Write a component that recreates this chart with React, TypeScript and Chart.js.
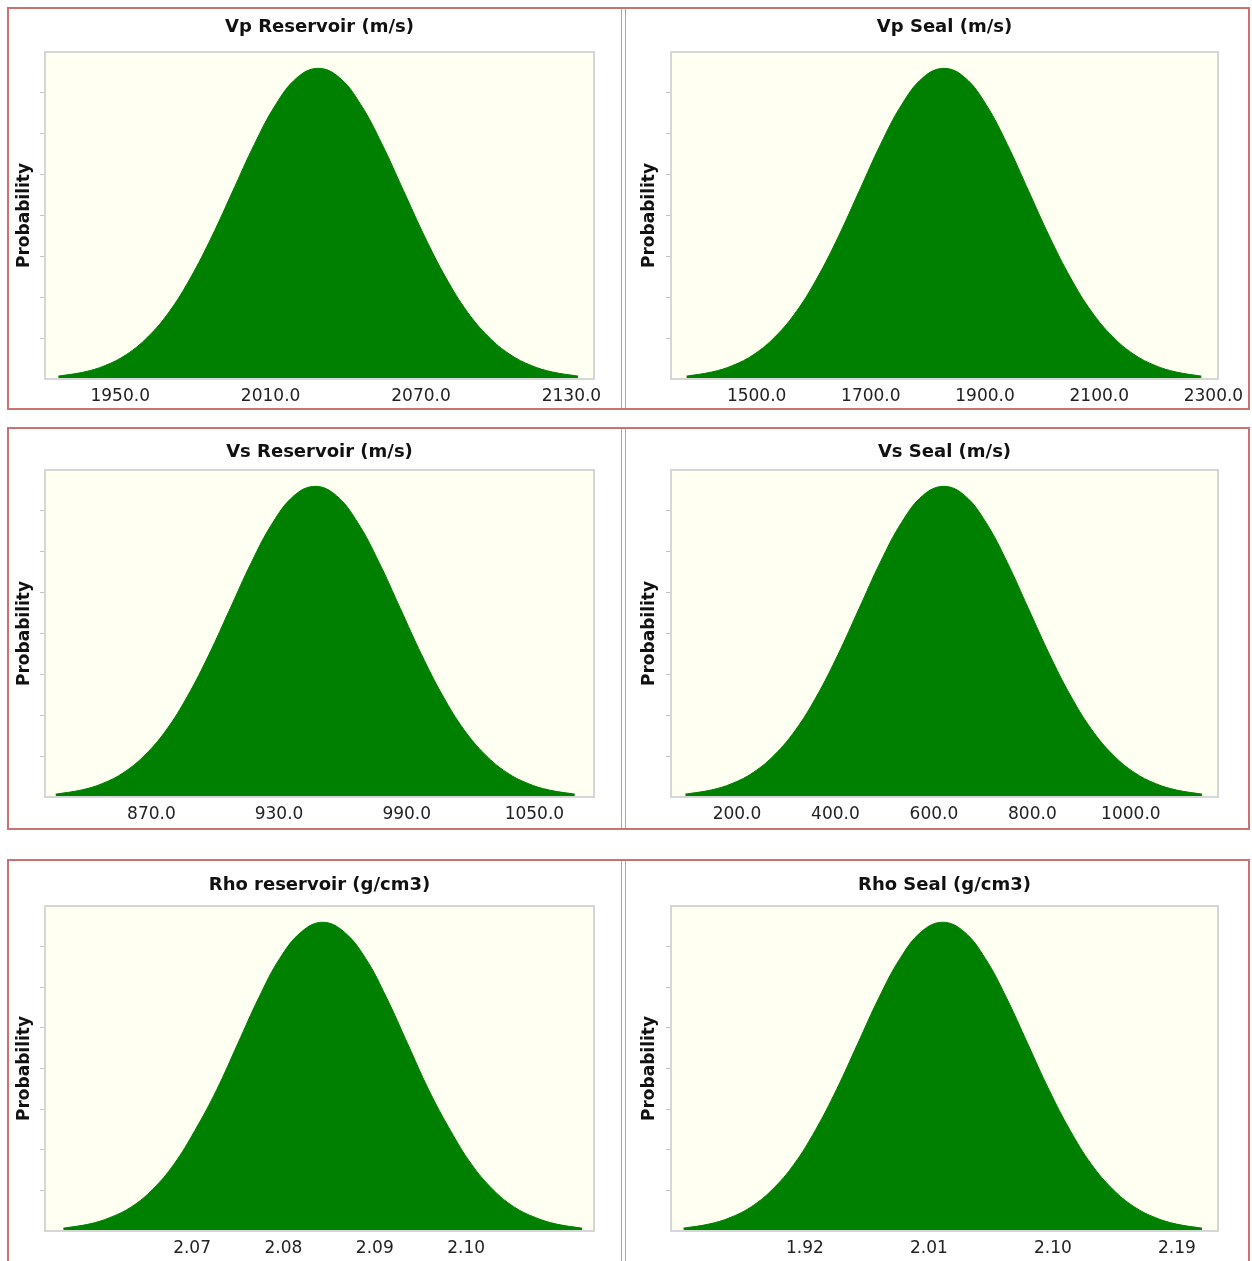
import React, { useEffect, useRef } from 'react';
import { Chart, registerables } from 'chart.js';

Chart.register(...registerables);

// ---------- data ----------
const TITLE_VP_RES = 'Vp Reservoir (m/s)';
const TITLE_VP_SEAL = 'Vp Seal (m/s)';
const TITLE_VS_RES = 'Vs Reservoir (m/s)';
const TITLE_VS_SEAL = 'Vs Seal (m/s)';
const TITLE_RHO_RES = 'Rho reservoir (g/cm3)';
const TITLE_RHO_SEAL = 'Rho Seal (g/cm3)';
const Y_LABEL = 'Probability';

const VP_RES_X = [1925.3, 1935.5, 1944, 1952.5, 1961, 1969.5, 1978, 1986.5, 1995, 2003.5, 2012, 2020.5, 2029, 2037.5, 2046, 2054.5, 2063, 2071.5, 2080, 2088.5, 2097, 2105.5, 2114, 2122.5, 2132.7];
const VP_RES_Y = [0.07, 0.17, 0.33, 0.6, 1.03, 1.64, 2.47, 3.48, 4.61, 5.74, 6.71, 7.37, 7.6, 7.37, 6.71, 5.74, 4.61, 3.48, 2.47, 1.64, 1.03, 0.6, 0.33, 0.17, 0.07];
const VP_RES_TICKS = [1950, 2010, 2070, 2130];
const VP_RES_RANGE = [1920, 2139];

const VP_SEAL_X = [1377, 1421, 1458, 1495, 1532, 1569, 1606, 1643, 1680, 1717, 1754, 1791, 1828, 1865, 1902, 1939, 1976, 2013, 2050, 2087, 2124, 2161, 2198, 2235, 2279];
const VP_SEAL_Y = [0.07, 0.17, 0.33, 0.6, 1.03, 1.64, 2.47, 3.48, 4.61, 5.74, 6.71, 7.37, 7.6, 7.37, 6.71, 5.74, 4.61, 3.48, 2.47, 1.64, 1.03, 0.6, 0.33, 0.17, 0.07];
const VP_SEAL_TICKS = [1500, 1700, 1900, 2100, 2300];
const VP_SEAL_RANGE = [1350, 2308];

const VS_RES_X = [825, 837, 847, 857, 867, 877, 887, 897, 907, 917, 927, 937, 947, 957, 967, 977, 987, 997, 1007, 1017, 1027, 1037, 1047, 1057, 1069];
const VS_RES_Y = [0.07, 0.17, 0.33, 0.6, 1.03, 1.64, 2.47, 3.48, 4.61, 5.74, 6.71, 7.37, 7.6, 7.37, 6.71, 5.74, 4.61, 3.48, 2.47, 1.64, 1.03, 0.6, 0.33, 0.17, 0.07];
const VS_RES_TICKS = [870, 930, 990, 1050];
const VS_RES_RANGE = [820, 1078];

const VS_SEAL_X = [95, 147, 190, 233, 276, 319, 362, 405, 448, 491, 534, 577, 620, 663, 706, 749, 792, 835, 878, 921, 964, 1007, 1050, 1093, 1145];
const VS_SEAL_Y = [0.07, 0.17, 0.33, 0.6, 1.03, 1.64, 2.47, 3.48, 4.61, 5.74, 6.71, 7.37, 7.6, 7.37, 6.71, 5.74, 4.61, 3.48, 2.47, 1.64, 1.03, 0.6, 0.33, 0.17, 0.07];
const VS_SEAL_TICKS = [200, 400, 600, 800, 1000];
const VS_SEAL_RANGE = [66, 1177];

const RHO_RES_X = [2.0559, 2.0587, 2.061, 2.0634, 2.0657, 2.068, 2.0703, 2.0727, 2.075, 2.0773, 2.0796, 2.082, 2.0843, 2.0866, 2.089, 2.0913, 2.0936, 2.0959, 2.0983, 2.1006, 2.1029, 2.1052, 2.1076, 2.1099, 2.1127];
const RHO_RES_Y = [0.07, 0.17, 0.33, 0.6, 1.03, 1.64, 2.47, 3.48, 4.61, 5.74, 6.71, 7.37, 7.6, 7.37, 6.71, 5.74, 4.61, 3.48, 2.47, 1.64, 1.03, 0.6, 0.33, 0.17, 0.07];
const RHO_RES_TICKS = [2.07, 2.08, 2.09, 2.1];
const RHO_RES_RANGE = [2.0539, 2.114];

const RHO_SEAL_X = [1.8318, 1.8503, 1.8657, 1.8812, 1.8966, 1.912, 1.9274, 1.9429, 1.9583, 1.9737, 1.9891, 2.0046, 2.02, 2.0354, 2.0509, 2.0663, 2.0817, 2.0971, 2.1126, 2.128, 2.1434, 2.1588, 2.1743, 2.1897, 2.2082];
const RHO_SEAL_Y = [0.07, 0.17, 0.33, 0.6, 1.03, 1.64, 2.47, 3.48, 4.61, 5.74, 6.71, 7.37, 7.6, 7.37, 6.71, 5.74, 4.61, 3.48, 2.47, 1.64, 1.03, 0.6, 0.33, 0.17, 0.07];
const RHO_SEAL_TICKS = [1.92, 2.01, 2.1, 2.19];
const RHO_SEAL_RANGE = [1.8228, 2.2198];

const Y_TICKS = [1, 2, 3, 4, 5, 6, 7];
const Y_RANGE = [0, 8];

// ---------- layout / style ----------
const FONT = '"DejaVu Sans", "Liberation Sans", sans-serif';
const GREEN = '#008000';
const PLOT_BG = '#fffff2';
const PLOT_BORDER = '#d6d6d6';
const ROW_BORDER = '#c87272';

const ROWS = [
  { top: 8, h: 400, plotTop: 52, plotBottom: 379, titleY: 27, boxTop: 7, boxH: 403 },
  { top: 428, h: 400, plotTop: 470, plotBottom: 797, titleY: 452, boxTop: 427, boxH: 403 },
  { top: 860, h: 401, plotTop: 906, plotBottom: 1231, titleY: 885, boxTop: 859, boxH: 430 },
];
const COLS = [
  { left: 8, w: 612, plotLeft: 45, plotRight: 594, yTitleX: 25 },
  { left: 627, w: 624, plotLeft: 671, plotRight: 1218, yTitleX: 650 },
];

type PanelSpec = {
  title: string; xs: number[]; ys: number[]; ticks: number[]; range: number[]; dec: number; row: number; col: number;
};

const PANELS: PanelSpec[] = [
  { title: TITLE_VP_RES, xs: VP_RES_X, ys: VP_RES_Y, ticks: VP_RES_TICKS, range: VP_RES_RANGE, dec: 1, row: 0, col: 0 },
  { title: TITLE_VP_SEAL, xs: VP_SEAL_X, ys: VP_SEAL_Y, ticks: VP_SEAL_TICKS, range: VP_SEAL_RANGE, dec: 1, row: 0, col: 1 },
  { title: TITLE_VS_RES, xs: VS_RES_X, ys: VS_RES_Y, ticks: VS_RES_TICKS, range: VS_RES_RANGE, dec: 1, row: 1, col: 0 },
  { title: TITLE_VS_SEAL, xs: VS_SEAL_X, ys: VS_SEAL_Y, ticks: VS_SEAL_TICKS, range: VS_SEAL_RANGE, dec: 1, row: 1, col: 1 },
  { title: TITLE_RHO_RES, xs: RHO_RES_X, ys: RHO_RES_Y, ticks: RHO_RES_TICKS, range: RHO_RES_RANGE, dec: 2, row: 2, col: 0 },
  { title: TITLE_RHO_SEAL, xs: RHO_SEAL_X, ys: RHO_SEAL_Y, ticks: RHO_SEAL_TICKS, range: RHO_SEAL_RANGE, dec: 2, row: 2, col: 1 },
];

const plotFrame = {
  id: 'plotFrame',
  beforeDraw(chart: any) {
    const { ctx, chartArea: a } = chart;
    ctx.save();
    ctx.fillStyle = PLOT_BG;
    ctx.fillRect(a.left, a.top, a.right - a.left, a.bottom - a.top);
    ctx.restore();
  },
  afterDatasetsDraw(chart: any) {
    const { ctx, chartArea: a } = chart;
    ctx.save();
    ctx.strokeStyle = PLOT_BORDER;
    ctx.lineWidth = 2;
    ctx.strokeRect(a.left, a.top, a.right - a.left, a.bottom - a.top);
    ctx.restore();
  },
};

function Panel({ spec }: { spec: PanelSpec }) {
  const ref = useRef<HTMLCanvasElement>(null);
  const row = ROWS[spec.row];
  const col = COLS[spec.col];

  useEffect(() => {
    const canvas = ref.current;
    if (!canvas) return;
    const titleSize = 18;
    const titleLH = titleSize * 1.2;
    const yTitleSize = 17;
    const yTitleLH = yTitleSize * 1.2;
    const chart = new Chart(canvas, {
      type: 'line',
      data: {
        datasets: [
          {
            data: spec.xs.map((x, i) => ({ x, y: spec.ys[i] })),
            fill: 'origin',
            backgroundColor: GREEN,
            borderColor: GREEN,
            borderWidth: 1,
            pointRadius: 0,
            tension: 0.4,
          },
        ],
      },
      options: {
        animation: false,
        responsive: false,
        devicePixelRatio: 1,
        layout: {
          padding: { left: 0, top: 0, bottom: 0, right: col.left + col.w - col.plotRight },
        },
        plugins: {
          legend: { display: false },
          tooltip: { enabled: false },
          title: {
            display: true,
            text: spec.title,
            fullSize: false,
            color: '#111',
            font: { family: FONT, size: titleSize, weight: 'bold', lineHeight: 1.2 },
            padding: {
              top: row.titleY - row.top - titleLH / 2,
              bottom: row.plotTop - row.titleY - titleLH / 2,
            },
          },
        },
        scales: {
          x: {
            type: 'linear',
            min: spec.range[0],
            max: spec.range[1],
            afterBuildTicks: (s: any) => {
              s.ticks = spec.ticks.map((v) => ({ value: v }));
            },
            afterFit: (s: any) => {
              s.height = row.top + row.h - row.plotBottom;
            },
            grid: { display: false },
            border: { display: false },
            ticks: {
              autoSkip: false,
              maxRotation: 0,
              padding: -1,
              color: '#222',
              font: { family: FONT, size: 17 },
              callback: (v: any) => Number(v).toFixed(spec.dec),
            },
          },
          y: {
            type: 'linear',
            min: Y_RANGE[0],
            max: Y_RANGE[1],
            afterBuildTicks: (s: any) => {
              s.ticks = Y_TICKS.map((v) => ({ value: v }));
            },
            afterFit: (s: any) => {
              s.width = col.plotLeft - col.left;
            },
            grid: {
              display: true,
              drawOnChartArea: false,
              drawTicks: true,
              tickLength: 5,
              color: '#c4c4c4',
              lineWidth: 1,
            },
            border: { display: false },
            ticks: { display: false },
            title: {
              display: true,
              text: Y_LABEL,
              color: '#111',
              font: { family: FONT, size: yTitleSize, weight: 'bold', lineHeight: 1.2 },
              padding: { top: col.yTitleX - col.left - yTitleLH / 2, bottom: 0 },
            },
          },
        },
      } as any,
      plugins: [plotFrame],
    });
    return () => chart.destroy();
  }, []);

  return (
    <canvas
      ref={ref}
      width={col.w}
      height={row.h}
      style={{ position: 'absolute', left: col.left, top: row.top, width: col.w, height: row.h, display: 'block' }}
    />
  );
}

export default function App() {
  return (
    <div
      style={{
        position: 'fixed',
        left: 0,
        top: 0,
        width: 1252,
        height: 1261,
        overflow: 'hidden',
        background: '#ffffff',
      }}
    >
      {PANELS.map((p, i) => (
        <Panel key={i} spec={p} />
      ))}
      {ROWS.map((r, i) => (
        <React.Fragment key={'r' + i}>
          <div
            style={{
              position: 'absolute',
              left: 7,
              top: r.boxTop,
              width: 1243,
              height: r.boxH,
              border: `2px solid ${ROW_BORDER}`,
              boxSizing: 'border-box',
              pointerEvents: 'none',
            }}
          />
          <div style={{ position: 'absolute', left: 621, top: r.boxTop + 2, width: 1, height: Math.min(r.boxH - 4, 1261 - r.boxTop), background: '#a8a8a8' }} />
          <div style={{ position: 'absolute', left: 625, top: r.boxTop + 2, width: 1, height: Math.min(r.boxH - 4, 1261 - r.boxTop), background: '#a8a8a8' }} />
        </React.Fragment>
      ))}
    </div>
  );
}
